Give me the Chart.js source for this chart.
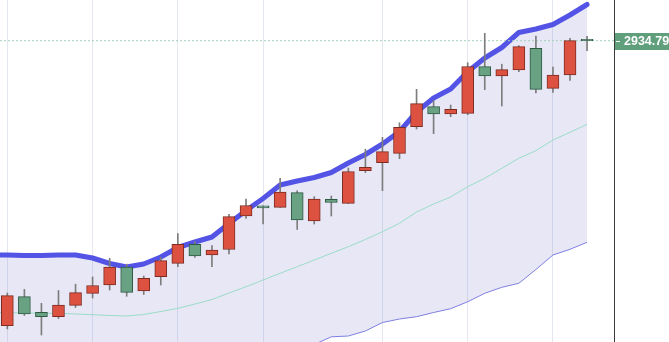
<!DOCTYPE html>
<html>
<head>
<meta charset="utf-8">
<title>Candles with Bollinger bands</title>
<script src="https://cdn.jsdelivr.net/npm/chart.js"></script>
<style>
  html, body { margin: 0; padding: 0; background: #fff; }
  .chart-container { width: 669px; height: 342px; }
</style>
</head>
<body>
<div class="chart-container">
  <canvas id="candleChart"></canvas>
</div>
<script>
// Candle data (one entry per trading day)
const days = [0, 1, 2, 3, 4, 5, 6, 7, 8, 9, 10, 11, 12, 13, 14, 15, 16, 17,
  18, 19, 20, 21, 22, 23, 24, 25, 26, 27, 28, 29, 30, 31, 32, 33, 34];
const opens = [2507.29, 2550.79, 2527.39, 2520.79, 2537.89, 2555.89, 2568.34, 2595.34, 2559.34, 2580.79,
  2600.89, 2629.39, 2613.34, 2621.59, 2671.84, 2687.09, 2684.89, 2706.79, 2664.34, 2696.89,
  2690.89, 2739.79, 2751.79, 2765.89, 2805.79, 2835.79, 2824.84, 2825.89, 2895.79, 2881.84,
  2890.84, 2923.39, 2863.39, 2883.34, 2936.89];
const highs = [2556.34, 2561.89, 2540.89, 2560.09, 2569.54, 2580.34, 2608.39, 2599.54, 2581.84, 2609.89,
  2645.59, 2633.29, 2627.59, 2674.39, 2697.34, 2687.09, 2728.39, 2709.79, 2700.79, 2701.84,
  2743.84, 2772.04, 2789.89, 2811.79, 2861.89, 2845.09, 2838.34, 2901.79, 2945.89, 2899.54,
  2927.59, 2941.84, 2895.34, 2938.39, 2941.39];
const lows = [2502.34, 2522.59, 2493.34, 2518.09, 2534.59, 2548.84, 2560.84, 2551.39, 2554.09, 2568.34,
  2595.79, 2609.89, 2595.79, 2614.84, 2668.39, 2659.84, 2684.89, 2651.59, 2659.84, 2671.84,
  2690.59, 2737.09, 2709.79, 2757.79, 2802.34, 2795.29, 2820.79, 2823.79, 2861.29, 2836.84,
  2888.29, 2856.34, 2857.09, 2875.39, 2919.79];
const closes = [2552.29, 2524.84, 2520.79, 2538.34, 2556.79, 2567.59, 2595.34, 2557.39, 2578.39, 2604.79,
  2629.39, 2611.84, 2620.54, 2670.79, 2687.59, 2684.09, 2707.84, 2665.84, 2697.34, 2692.09,
  2738.59, 2744.89, 2768.29, 2804.89, 2840.29, 2824.84, 2831.89, 2896.09, 2881.84, 2891.29,
  2925.79, 2861.89, 2883.34, 2934.79, 2934.79];

// Bollinger bands (first point is the day before the visible range)
const bandDays = [-1, 0, 1, 2, 3, 4, 5, 6, 7, 8, 9, 10, 11, 12, 13, 14, 15, 16, 17,
  18, 19, 20, 21, 22, 23, 24, 25, 26, 27, 28, 29, 30, 31, 32, 33, 34];
const upperBand = [2613.34, 2613.34, 2612.59, 2612.59, 2613.34, 2613.34, 2608.84, 2600.59, 2595.34, 2599.84,
  2610.34, 2624.59, 2632.84, 2640.34, 2660.59, 2680.09, 2698.09, 2718.34, 2724.34, 2729.59,
  2737.09, 2751.34, 2764.09, 2779.84, 2798.59, 2827.84, 2848.84, 2862.34, 2888.29, 2908.84,
  2924.59, 2947.09, 2952.34, 2959.09, 2973.34, 2989.09];
const middleBand = [2527.09, 2526.79, 2526.34, 2526.04, 2525.89, 2524.84, 2523.79, 2522.59, 2521.84, 2524.09,
  2528.59, 2533.39, 2539.84, 2546.59, 2556.34, 2565.79, 2575.84, 2585.89, 2595.79, 2605.84,
  2615.89, 2625.79, 2636.59, 2648.29, 2660.89, 2677.84, 2689.84, 2700.34, 2715.79, 2728.39,
  2743.39, 2758.39, 2769.79, 2785.84, 2797.39, 2809.39];
const lowerBand = [2440.84, 2440.24, 2440.09, 2439.49, 2438.44, 2436.34, 2438.74, 2444.59, 2448.34, 2448.34,
  2446.84, 2442.19, 2446.84, 2452.84, 2452.09, 2451.49, 2453.59, 2453.44, 2467.24, 2479.09,
  2490.64, 2491.84, 2499.34, 2512.09, 2517.34, 2520.79, 2527.09, 2532.79, 2543.29, 2555.89,
  2564.89, 2570.89, 2591.59, 2613.34, 2621.89, 2632.39];

// Days that carry a vertical grid line
const gridDays = [0, 5, 10, 15, 22, 27, 32];
const lastPrice = 2934.79;

const xMin = -0.43, xMax = 35.58;
const yMin = 2482.84, yMax = 2995.84;

const upColor = '#dc5140', upBorder = '#7e2c22';
const downColor = '#68a283', downBorder = '#2f5a44';
const isUp = days.map(i => closes[i] >= opens[i] && i !== 15 && i !== 34);

const bodies = days.map(i => ({ x: i, y: [opens[i], closes[i]] }));
const wicks = days.map(i => ({ x: i, y: [lows[i], highs[i]] }));
const band = arr => bandDays.map((d, k) => ({ x: d, y: arr[k] }));

// price tag on the right axis for the last close
const priceTag = {
  id: 'priceTag',
  afterDraw(chart) {
    const { ctx, chartArea, scales: { y } } = chart;
    const py = Math.round(y.getPixelForValue(lastPrice)) + 0.5;
    ctx.save();
    ctx.fillStyle = '#5f9f7c';
    ctx.fillRect(chartArea.right + 1, py - 8.5, 70, 17);
    ctx.strokeStyle = '#ffffff';
    ctx.lineWidth = 1;
    ctx.beginPath();
    ctx.moveTo(chartArea.right + 2, py);
    ctx.lineTo(chartArea.right + 6, py);
    ctx.stroke();
    ctx.fillStyle = '#ffffff';
    ctx.font = 'bold 12.5px "Liberation Sans", Arial, sans-serif';
    ctx.textBaseline = 'middle';
    ctx.fillText(lastPrice.toFixed(2), chartArea.right + 10, py + 0.5);
    ctx.restore();
  }
};

const ctx = document.getElementById('candleChart').getContext('2d');
const chart = new Chart(ctx, {
  type: 'bar',
  data: {
    datasets: [
      {
        type: 'line',
        label: 'Upper',
        data: band(upperBand),
        borderColor: '#5353e6',
        borderWidth: 5,
        borderJoinStyle: 'round',
        borderCapStyle: 'round',
        pointRadius: 0,
        tension: 0,
        fill: '+2',
        backgroundColor: 'rgba(110, 110, 200, 0.17)',
        order: 6
      },
      {
        type: 'line',
        label: 'Middle',
        data: band(middleBand),
        borderColor: '#9adcc6',
        borderWidth: 1,
        pointRadius: 0,
        tension: 0,
        fill: false,
        order: 5
      },
      {
        type: 'line',
        label: 'Lower',
        data: band(lowerBand),
        borderColor: '#7f7fe2',
        borderWidth: 1,
        pointRadius: 0,
        tension: 0,
        fill: false,
        order: 5
      },
      {
        type: 'line',
        label: 'Last',
        data: [{ x: xMin, y: lastPrice }, { x: xMax, y: lastPrice }],
        borderColor: '#a3d2bb',
        borderWidth: 1,
        borderDash: [2, 2],
        pointRadius: 0,
        fill: false,
        order: 4
      },
      {
        type: 'bar',
        label: 'Wick',
        data: wicks,
        barThickness: 1,
        backgroundColor: '#7d7d7d',
        grouped: false,
        order: 2
      },
      {
        type: 'bar',
        label: 'Body',
        data: bodies,
        barThickness: 12,
        backgroundColor: days.map(i => isUp[i] ? upColor : downColor),
        borderColor: days.map(i => isUp[i] ? upBorder : downBorder),
        borderWidth: 1,
        borderSkipped: false,
        grouped: false,
        order: 1
      }
    ]
  },
  options: {
    responsive: true,
    maintainAspectRatio: false,
    animation: false,
    layout: { padding: 0 },
    plugins: {
      legend: { display: false },
      tooltip: { enabled: false }
    },
    scales: {
      x: {
        type: 'linear',
        min: xMin,
        max: xMax,
        offset: false,
        afterBuildTicks: s => { s.ticks = gridDays.map(v => ({ value: v })); },
        afterFit: s => { s.height = 0; },
        ticks: { display: false },
        grid: { color: '#e3e8ef', drawTicks: false, offset: false },
        border: { display: false }
      },
      y: {
        position: 'right',
        min: yMin,
        max: yMax,
        afterFit: s => { s.width = 55; },
        ticks: { display: false },
        grid: { display: false },
        border: { display: true, color: '#3a3a3a', width: 1 }
      }
    }
  },
  plugins: [priceTag]
});
</script>
</body>
</html>
